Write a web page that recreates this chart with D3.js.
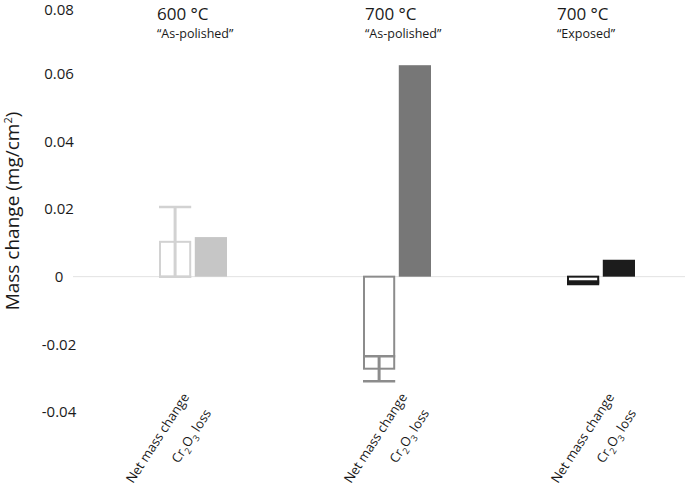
<!DOCTYPE html>
<html>
<head lang="en">
    <meta charset="UTF-8">
    <title> Mass change </title>
    <script type="text/javascript" src="https://cdn.jsdelivr.net/npm/d3@7"></script>
    <style>
        body { margin: 0; background: white; }
        text { font-family: "Open Sans", sans-serif; fill: #1a1a1a; }
    </style>
</head>
<body>
<div id="chart"></div>

<script>

    // data
    var groups      = ["600 °C", "700 °C", "700 °C "];
    var conditions  = ["“As-polished”", "“As-polished”", "“Exposed”"];
    var netChange   = [0.0103, -0.0272, -0.0018];
    var netError    = [0.0103, 0.0037, 0.0004];
    var cr2o3Loss   = [0.0117, 0.0625, 0.0050];
    var yTicks      = [0.08, 0.06, 0.04, 0.02, 0, -0.02, -0.04];
    var yTickLabels = ["0.08", "0.06", "0.04", "0.02", "0", "-0.02", "-0.04"];

    // look of each group (light -> dark)
    var netStroke = ["#d2d2d2", "#8c8c8c", "#1a1a1a"];
    var crFill    = ["#c6c6c6", "#777777", "#1c1c1c"];

    var width = 685, height = 487;

    var svg = d3.select("#chart").append("svg")
            .attr("width", width)
            .attr("height", height);

    var y = d3.scaleLinear().domain([-0.04, 0.08]).range([412, 6]);
    var x0 = d3.scaleBand().domain(groups).range([91, 703]);
    var x1 = d3.scaleBand().domain(["net", "cr"]).range([-34, 34]).paddingInner(0.1);

    function center(i) { return x0(groups[i]) + x0.bandwidth() / 2; }

    // y tick labels (no axis line in the original)
    svg.append("g").selectAll("text")
            .data(yTicks).enter().append("text")
            .attr("x", 59)
            .attr("y", function (d) { return Math.max(y(d), 10); })  // keep top label inside
            .attr("dy", "0.35em")
            .attr("text-anchor", "middle")
            .style("font-size", "15px")
            .text(function (d, i) { return yTickLabels[i]; });

    // y title
    svg.append("text")
            .attr("transform", "translate(19," + 211 + ") rotate(-90)")
            .attr("text-anchor", "middle")
            .style("font-size", "19px")
            .html("Mass change (mg/cm<tspan dy='-7' style='font-size:11px'>2</tspan><tspan dy='7'>)</tspan>");

    // zero line
    svg.append("line")
            .attr("x1", 73).attr("x2", width)
            .attr("y1", y(0)).attr("y2", y(0))
            .style("stroke", "#e2e2e2")
            .style("stroke-width", 1);

    var g = svg.selectAll("g.grp")
            .data(groups).enter().append("g")
            .attr("class", "grp")
            .attr("transform", function (d, i) { return "translate(" + center(i) + ",0)"; });

    // Cr2O3 loss bars
    g.append("rect")
            .attr("x", x1("cr"))
            .attr("width", x1.bandwidth())
            .attr("y", function (d, i) { return y(Math.max(0, cr2o3Loss[i])); })
            .attr("height", function (d, i) { return Math.abs(y(cr2o3Loss[i]) - y(0)); })
            .style("fill", function (d, i) { return crFill[i]; });

    // net mass change bars (outlined)
    g.append("rect")
            .attr("x", x1("net") + 1)
            .attr("width", x1.bandwidth() - 2)
            .attr("y", function (d, i) { return y(Math.max(0, netChange[i])); })
            .attr("height", function (d, i) { return Math.abs(y(netChange[i]) - y(0)); })
            .style("fill", "white")
            .style("stroke", function (d, i) { return netStroke[i]; })
            .style("stroke-width", 2);

    // error bars
    var cx = x1("net") + x1.bandwidth() / 2;
    g.each(function (d, i) {
        var e = d3.select(this);
        var top = netChange[i] + netError[i], bot = netChange[i] - netError[i];
        var col = netStroke[i];
        e.append("line")
                .attr("x1", cx).attr("x2", cx)
                .attr("y1", y(top)).attr("y2", y(bot))
                .style("stroke", col).style("stroke-width", 3);
        [top, bot].forEach(function (v) {
            e.append("line")
                    .attr("x1", x1("net")).attr("x2", x1("net") + x1.bandwidth())
                    .attr("y1", y(v)).attr("y2", y(v))
                    .style("stroke", col).style("stroke-width", 2.5);
        });
    });

    // group titles
    var titleShift = [-36, -32, -44];
    g.append("text")
            .attr("x", function (d, i) { return titleShift[i]; })
            .attr("y", 20)
            .style("font-size", "17px")
            .text(function (d) { return d.trim(); });
    g.append("text")
            .attr("x", function (d, i) { return titleShift[i]; })
            .attr("y", 38)
            .style("font-size", "12.5px")
            .text(function (d, i) { return conditions[i]; });

    // rotated category labels
    var labelShift = [-11, 3, 6];
    g.append("text")
            .attr("transform", function (d, i) { return "translate(" + labelShift[i] + ",392) rotate(-57)"; })
            .attr("text-anchor", "end")
            .attr("dy", "0.7em")
            .style("font-size", "13px")
            .text("Net mass change");
    g.append("text")
            .attr("transform", function (d, i) { return "translate(" + (labelShift[i] + 22) + ",408) rotate(-57)"; })
            .attr("text-anchor", "end")
            .attr("dy", "0.7em")
            .style("font-size", "13px")
            .html("Cr<tspan dy='4' style='font-size:9px'>2</tspan><tspan dy='-4'>O</tspan><tspan dy='4' style='font-size:9px'>3</tspan><tspan dy='-4'> loss</tspan>");

</script>
</body>
</html>
